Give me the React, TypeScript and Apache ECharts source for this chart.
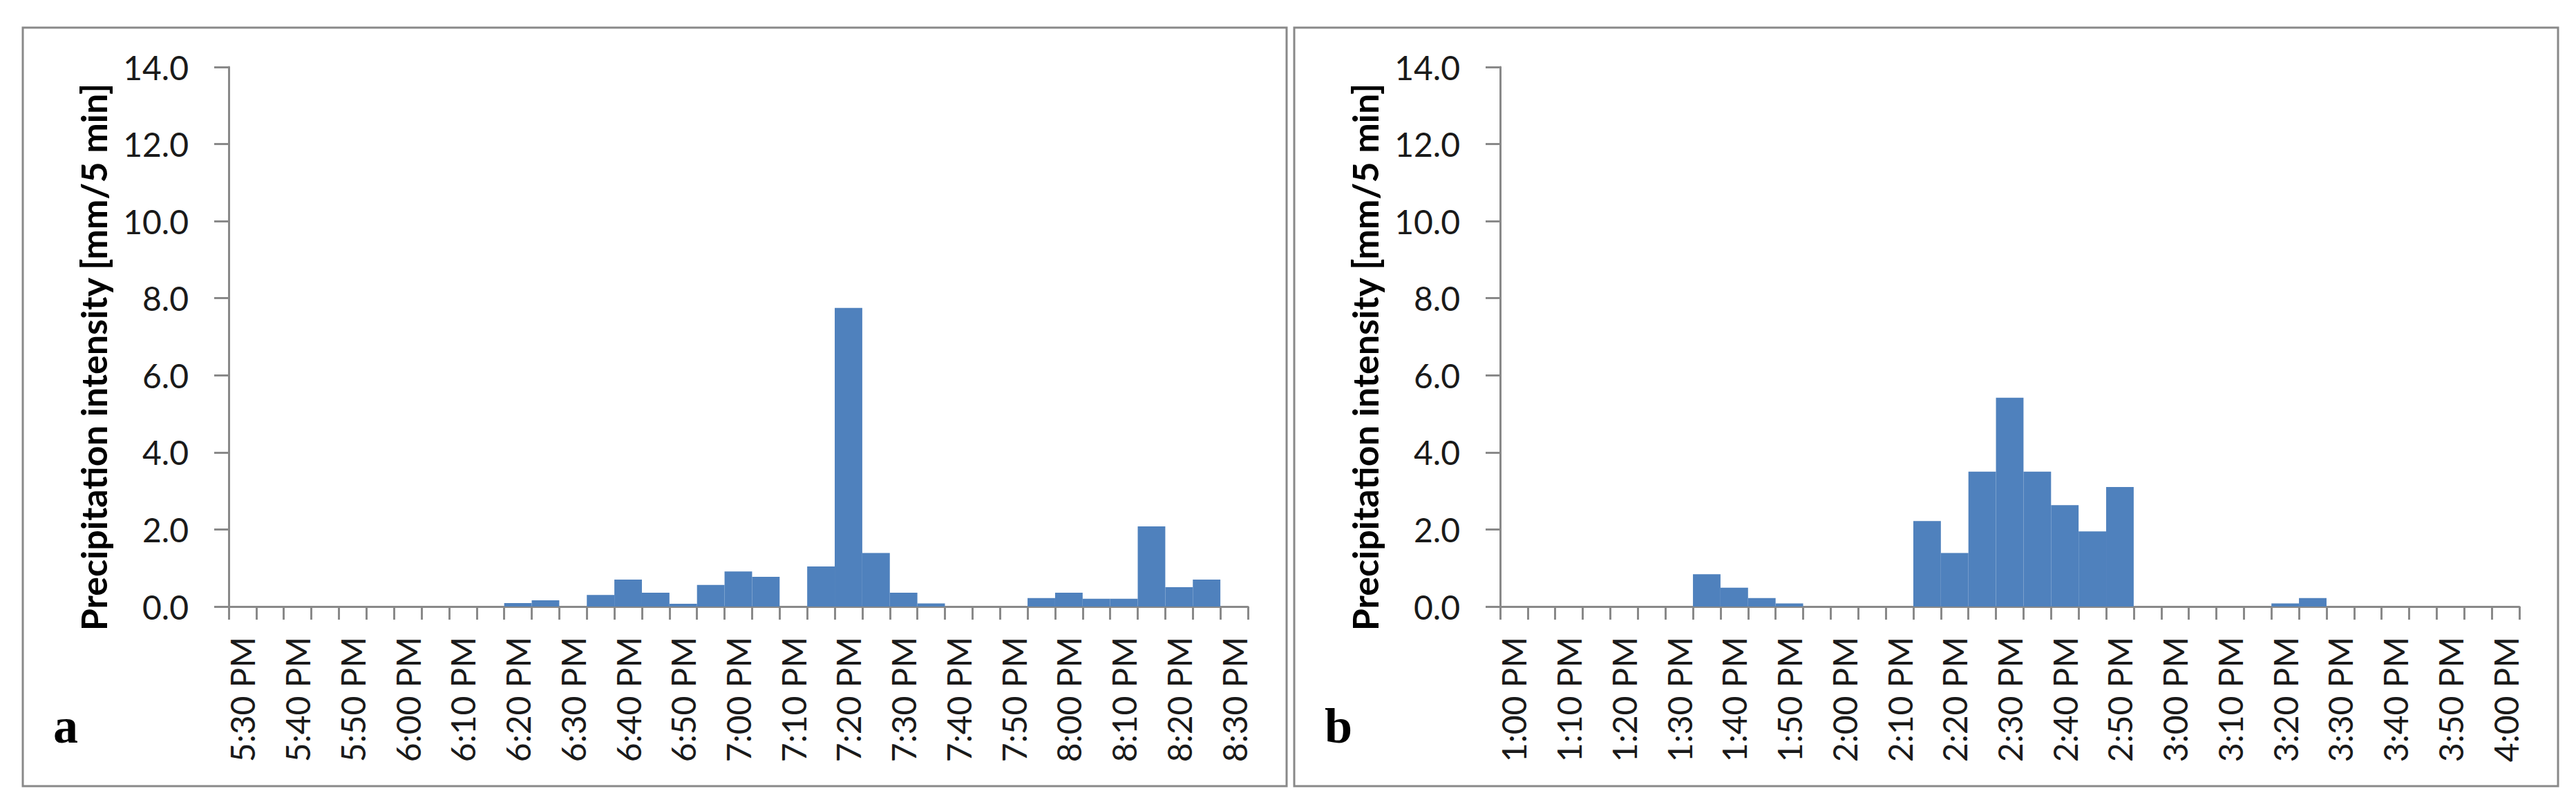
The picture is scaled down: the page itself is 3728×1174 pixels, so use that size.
import React, { useEffect, useRef } from "react";
import * as echarts from "echarts";

const categoriesA = [
  "5:30 PM", "5:35 PM", "5:40 PM", "5:45 PM", "5:50 PM", "5:55 PM", "6:00 PM", "6:05 PM",
  "6:10 PM", "6:15 PM", "6:20 PM", "6:25 PM", "6:30 PM", "6:35 PM", "6:40 PM", "6:45 PM",
  "6:50 PM", "6:55 PM", "7:00 PM", "7:05 PM", "7:10 PM", "7:15 PM", "7:20 PM", "7:25 PM",
  "7:30 PM", "7:35 PM", "7:40 PM", "7:45 PM", "7:50 PM", "7:55 PM", "8:00 PM", "8:05 PM",
  "8:10 PM", "8:15 PM", "8:20 PM", "8:25 PM", "8:30 PM",
];
const valuesA = [
  0, 0, 0, 0, 0, 0, 0, 0, 0, 0,
  0.09, 0.16, 0, 0.3, 0.7, 0.36, 0.07, 0.56, 0.91, 0.77,
  0, 1.04, 7.75, 1.39, 0.36, 0.08, 0, 0, 0, 0.22,
  0.36, 0.2, 0.2, 2.08, 0.5, 0.7, 0,
];

const categoriesB = [
  "1:00 PM", "1:05 PM", "1:10 PM", "1:15 PM", "1:20 PM", "1:25 PM", "1:30 PM", "1:35 PM",
  "1:40 PM", "1:45 PM", "1:50 PM", "1:55 PM", "2:00 PM", "2:05 PM", "2:10 PM", "2:15 PM",
  "2:20 PM", "2:25 PM", "2:30 PM", "2:35 PM", "2:40 PM", "2:45 PM", "2:50 PM", "2:55 PM",
  "3:00 PM", "3:05 PM", "3:10 PM", "3:15 PM", "3:20 PM", "3:25 PM", "3:30 PM", "3:35 PM",
  "3:40 PM", "3:45 PM", "3:50 PM", "3:55 PM", "4:00 PM",
];
const valuesB = [
  0, 0, 0, 0, 0, 0, 0, 0.84, 0.49, 0.22,
  0.08, 0, 0, 0, 0, 2.22, 1.39, 3.5, 5.42, 3.5,
  2.63, 1.95, 3.1, 0, 0, 0, 0, 0, 0.08, 0.22,
  0, 0, 0, 0, 0, 0, 0,
];

const yTitle = "Precipitation intensity [mm/5 min]";
const panelLetters = ["a", "b"];

const AXIS_COLOR = "#898989";
const TEXT_COLOR = "#1a1a1a";
const BAR_COLOR = "#4F81BD";

export default function App() {
  const ref = useRef<HTMLDivElement>(null);

  useEffect(() => {
    if (!ref.current) return;
    const chart = echarts.init(ref.current, undefined, { renderer: "svg" });

    const offsets = [0, 1840];
    const grids = offsets.map((dx) => ({
      left: 331 + dx,
      top: 97,
      width: 1475,
      height: 781,
      containLabel: false,
    }));

    const xAxes = [categoriesA, categoriesB].map((cats, i) => ({
      type: "category",
      gridIndex: i,
      data: cats,
      boundaryGap: true,
      axisLine: { show: true, lineStyle: { color: AXIS_COLOR, width: 3 } },
      axisTick: {
        show: true,
        interval: 0,
        alignWithLabel: false,
        length: 19,
        lineStyle: { color: AXIS_COLOR, width: 3 },
      },
      axisLabel: {
        interval: 1,
        rotate: 90,
        margin: 44,
        fontFamily: "Lato",
        fontSize: 48,
        color: TEXT_COLOR,
      },
      splitLine: { show: false },
    }));

    const yAxes = [0, 1].map((i) => ({
      type: "value",
      gridIndex: i,
      min: 0,
      max: 14,
      interval: 2,
      axisLine: { show: true, lineStyle: { color: AXIS_COLOR, width: 3 } },
      axisTick: { show: true, length: 21, lineStyle: { color: AXIS_COLOR, width: 3 } },
      axisLabel: {
        margin: 58,
        fontFamily: "Lato",
        fontSize: 48,
        color: TEXT_COLOR,
        formatter: (v: number) => v.toFixed(1),
      },
      splitLine: { show: false },
    }));

    const series = [valuesA, valuesB].map((vals, i) => ({
      type: "bar",
      xAxisIndex: i,
      yAxisIndex: i,
      data: vals,
      barCategoryGap: "0%",
      itemStyle: { color: BAR_COLOR },
    }));

    const graphic: any[] = [];
    offsets.forEach((dx, i) => {
      graphic.push({
        type: "rect",
        shape: { x: 33 + dx, y: 40, width: 1829, height: 1098 },
        style: { fill: "none", stroke: AXIS_COLOR, lineWidth: 3 },
        silent: true,
      });
      graphic.push({
        type: "text",
        x: 135 + dx,
        y: 517,
        rotation: Math.PI / 2,
        style: {
          text: yTitle,
          fontFamily: "Lato",
          fontWeight: "bold",
          fontSize: 52,
          fill: "#000",
          textAlign: "center",
          textVerticalAlign: "middle",
        },
      });
      graphic.push({
        type: "text",
        x: 77 + dx,
        y: 1087,
        style: {
          text: panelLetters[i],
          fontFamily: "Liberation Serif",
          fontWeight: "bold",
          fontSize: 72,
          fill: "#000",
          textAlign: "left",
          textVerticalAlign: "bottom",
        },
      });
    });

    chart.setOption({
      animation: false,
      backgroundColor: "#ffffff",
      grid: grids,
      xAxis: xAxes,
      yAxis: yAxes,
      series,
      graphic,
    });

    return () => chart.dispose();
  }, []);

  return (
    <div
      ref={ref}
      style={{ position: "fixed", left: 0, top: 0, width: 3728, height: 1174, background: "#fff" }}
    />
  );
}
